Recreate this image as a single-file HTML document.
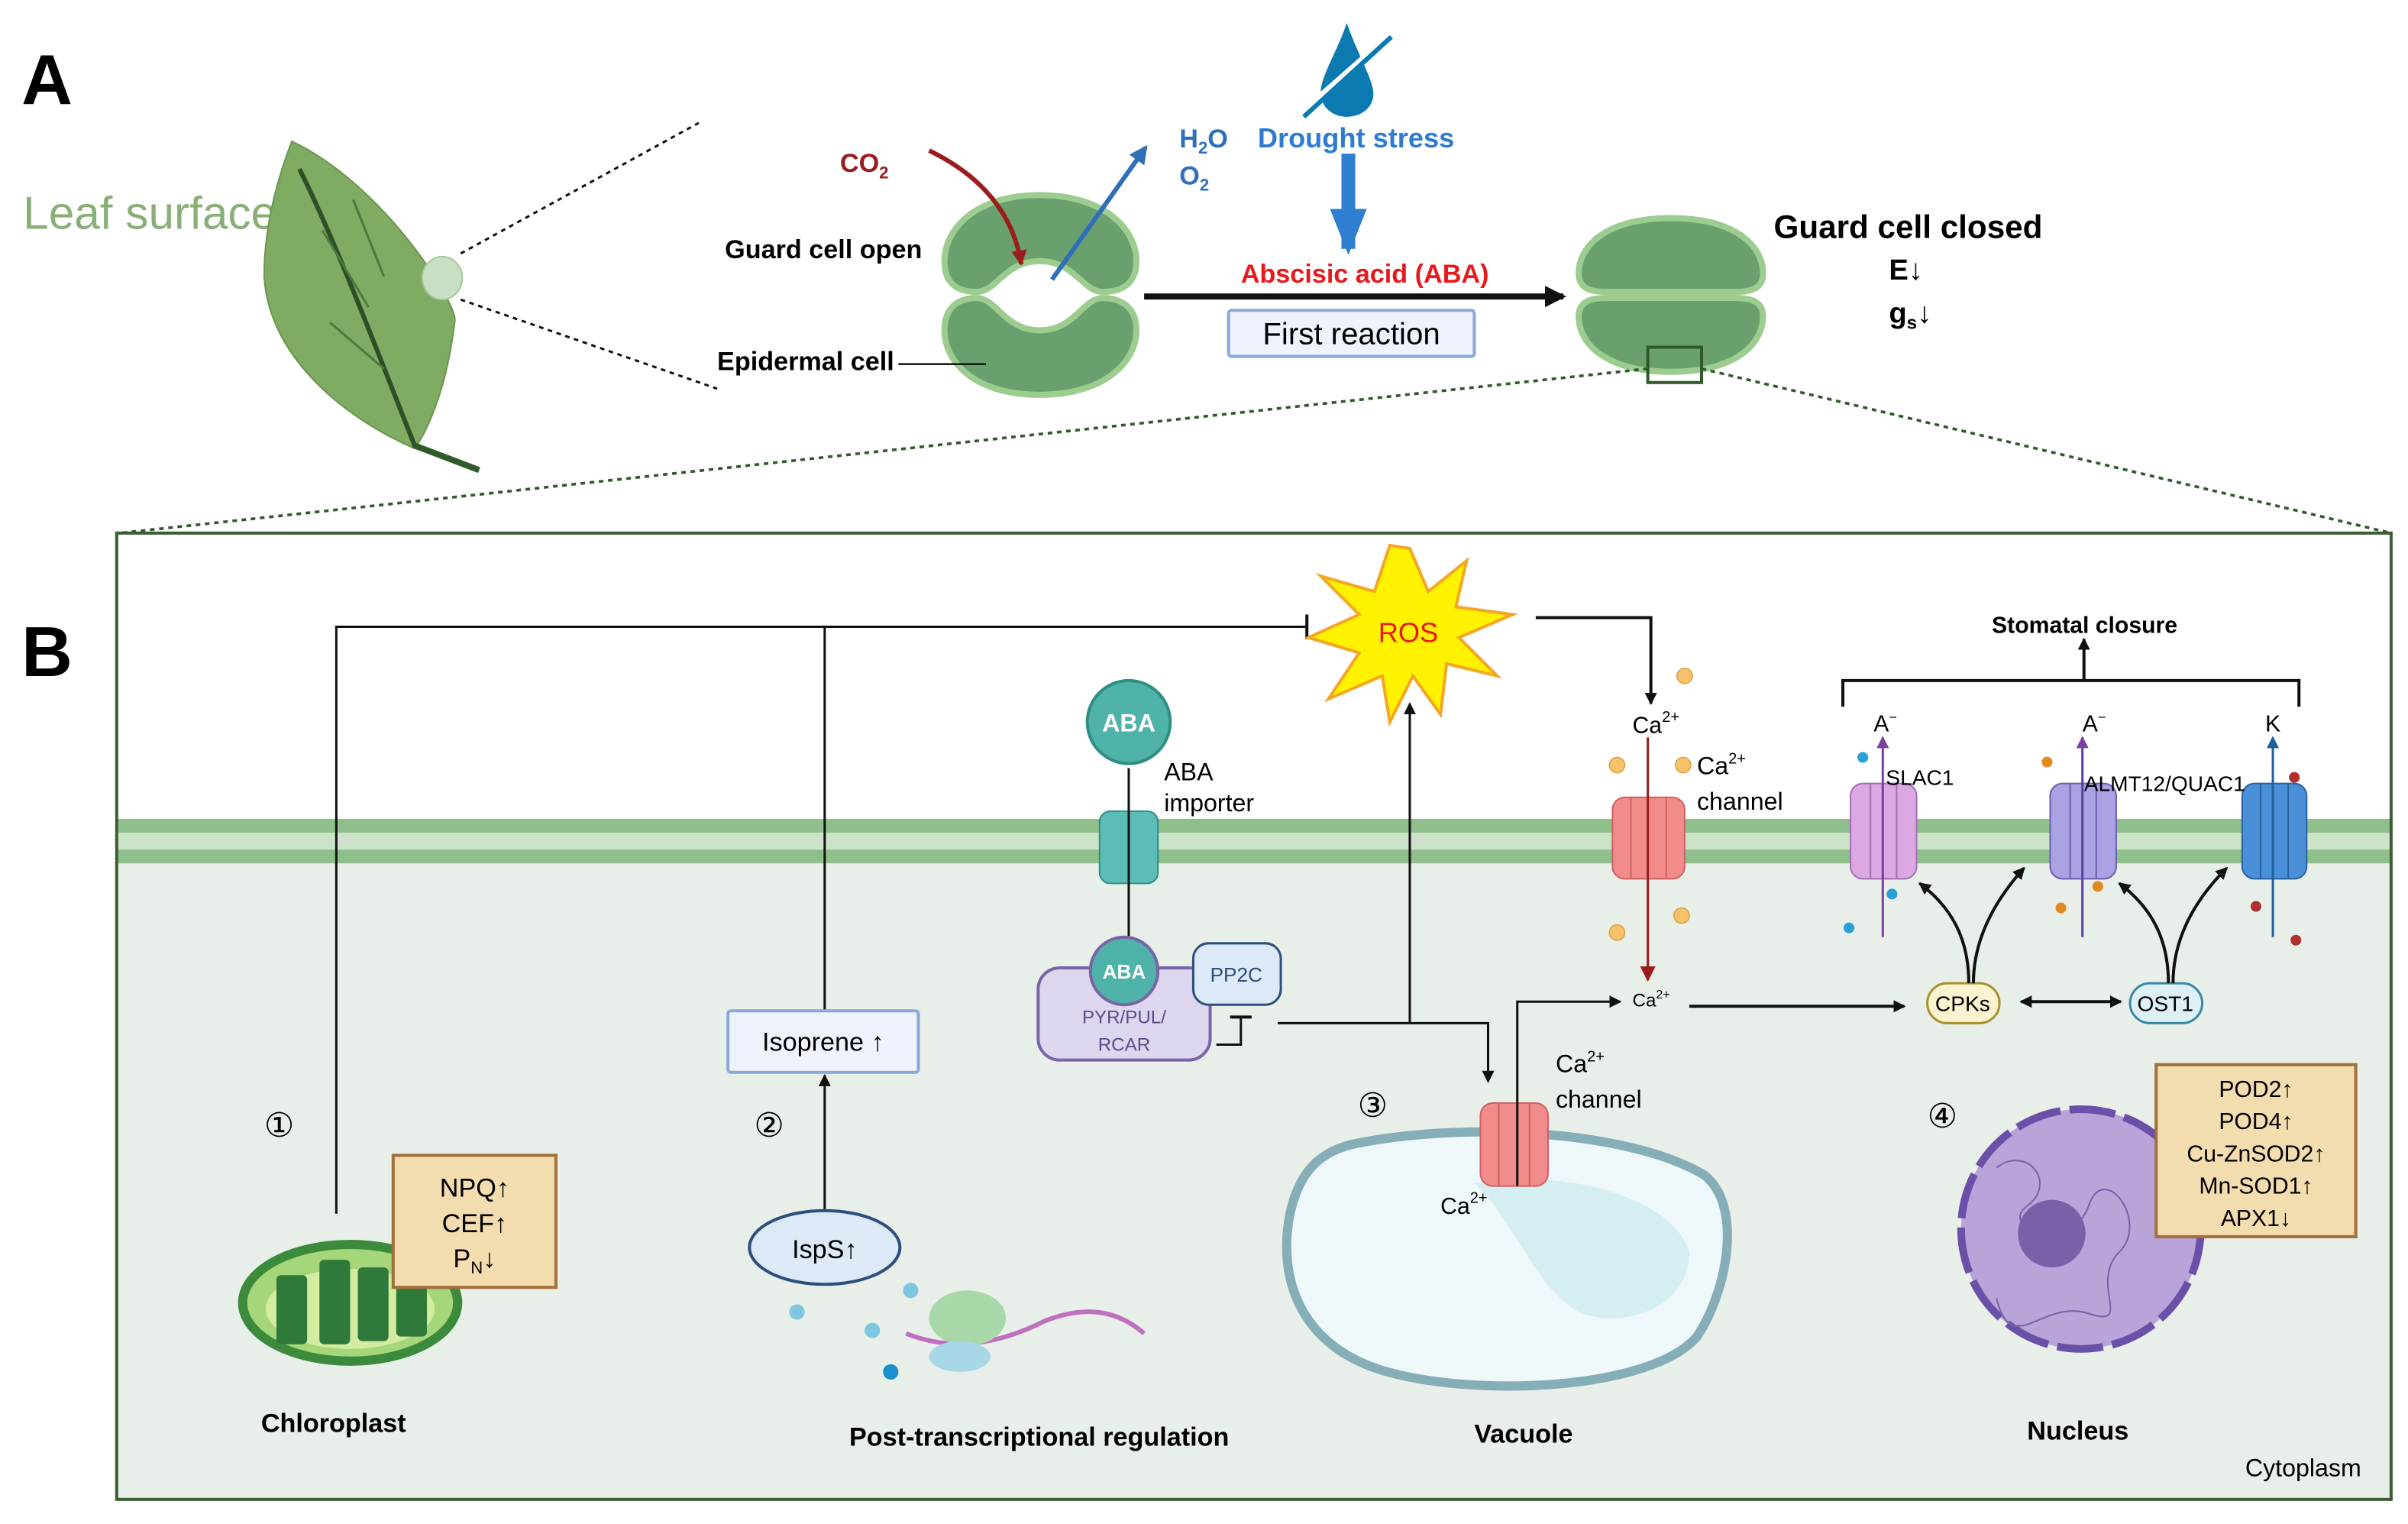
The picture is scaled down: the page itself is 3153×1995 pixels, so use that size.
<!DOCTYPE html>
<html><head><meta charset="utf-8"><style>
html,body{margin:0;padding:0;background:#fff;}
svg{display:block;}
text{font-family:"Liberation Sans",sans-serif;}
.b{font-weight:bold;}
</style></head><body>
<svg width="3153" height="1995" viewBox="0 0 1568 992" preserveAspectRatio="none" xmlns="http://www.w3.org/2000/svg">
<defs>
<marker id="ak" markerWidth="8" markerHeight="8" refX="7" refY="4" orient="auto" markerUnits="userSpaceOnUse"><path d="M0,0 L8,4 L0,8 z" fill="#111"/></marker>
<marker id="akb" markerWidth="14" markerHeight="14" refX="12" refY="7" orient="auto" markerUnits="userSpaceOnUse"><path d="M0,0 L14,7 L0,14 z" fill="#111"/></marker>
<marker id="ar" markerWidth="10" markerHeight="10" refX="9" refY="5" orient="auto" markerUnits="userSpaceOnUse"><path d="M0,0 L10,5 L0,10 z" fill="#9b1c1c"/></marker>
<marker id="abl" markerWidth="12" markerHeight="12" refX="10" refY="6" orient="auto" markerUnits="userSpaceOnUse"><path d="M0,0 L12,6 L0,12 z" fill="#2f6fba"/></marker>
<marker id="abig" markerWidth="30" markerHeight="24" refX="26" refY="12" orient="auto" markerUnits="userSpaceOnUse"><path d="M0,0 L30,12 L0,24 z" fill="#2e7fd0"/></marker>
<marker id="ap" markerWidth="8" markerHeight="8" refX="7" refY="4" orient="auto" markerUnits="userSpaceOnUse"><path d="M0,0 L8,4 L0,8 z" fill="#7a3fa0"/></marker>
<marker id="ab2" markerWidth="8" markerHeight="8" refX="7" refY="4" orient="auto" markerUnits="userSpaceOnUse"><path d="M0,0 L8,4 L0,8 z" fill="#1f5f9a"/></marker>
<marker id="ars" markerWidth="8" markerHeight="8" refX="1" refY="4" orient="auto" markerUnits="userSpaceOnUse"><path d="M8,0 L0,4 L8,8 z" fill="#111"/></marker>
</defs>

<!-- Panel A -->
<text x="14" y="68" font-size="46" class="b">A</text>
<text x="15" y="149" font-size="30" fill="#8aae78">Leaf surface</text>
<path d="M190,92 C250,120 300,200 296,210 C290,260 275,285 270,292 C220,270 175,230 172,180 C172,140 185,105 190,92 z" fill="#7fac62" stroke="#6a9650"/>
<path d="M195,110 C220,160 250,240 270,290 L310,305" stroke="#2f4f2a" stroke-width="3" fill="none"/>
<path d="M270,290 L312,306" stroke="#2f5a2a" stroke-width="4"/>
<path d="M210,150 L240,200 M215,210 L250,240 M230,130 L250,180" stroke="#4d7a3e" stroke-width="1.5" fill="none"/>
<ellipse cx="288" cy="181" rx="13" ry="14" fill="#c7dfc2" stroke="#a8c8a0"/>
<path d="M300,165 L455,80 M300,195 L467,253" stroke="#111" stroke-width="1.5" stroke-dasharray="3,3"/>

<!-- open guard cell -->
<path d="M677,127 C720,127 740,150 740,170 C740,185 730,190 718,190 C705,190 700,170 677,170 C654,170 649,190 636,190 C624,190 615,185 615,170 C615,150 634,127 677,127 z" fill="#6aa06e" stroke="#9ccc8f" stroke-width="4"/>
<path d="M677,257 C720,257 740,235 740,215 C740,200 730,194 718,194 C705,194 700,215 677,215 C654,215 649,194 636,194 C624,194 615,200 615,215 C615,235 634,257 677,257 z" fill="#6aa06e" stroke="#9ccc8f" stroke-width="4"/>
<text x="472" y="168" font-size="17" class="b">Guard cell open</text>
<text x="467" y="241" font-size="17" class="b">Epidermal cell</text>
<line x1="585" y1="237" x2="642" y2="237" stroke="#111" stroke-width="1.2"/>
<text x="547" y="112" font-size="17" class="b" fill="#9b1c1c">CO<tspan font-size="11" dy="4">2</tspan></text>
<path d="M605,98 C640,115 660,140 665,172" stroke="#9b1c1c" stroke-width="3" fill="none" marker-end="url(#ar)"/>
<line x1="685" y1="182" x2="746" y2="96" stroke="#2f6fba" stroke-width="3" marker-end="url(#abl)"/>
<text x="768" y="96" font-size="17" class="b" fill="#2f6fba">H<tspan font-size="11" dy="4">2</tspan><tspan dy="-4">O</tspan></text>
<text x="768" y="120" font-size="17" class="b" fill="#2f6fba">O<tspan font-size="11" dy="4">2</tspan></text>
<text x="819" y="96" font-size="18" class="b" fill="#2e7bd0">Drought stress</text>
<path d="M877,15 C870,35 860,50 860,60 C860,70 868,76 877,76 C888,76 896,68 894,58 C892,48 884,35 877,15 z" fill="#0a7ab0"/>
<line x1="852" y1="70" x2="902" y2="26" stroke="#fff" stroke-width="5"/>
<line x1="849" y1="76" x2="906" y2="24" stroke="#0a7ab0" stroke-width="3"/>
<line x1="878" y1="100" x2="878" y2="162" stroke="#2e7fd0" stroke-width="9" marker-end="url(#abig)"/>
<text x="808" y="184" font-size="17" class="b" fill="#e8191c">Abscisic acid (ABA)</text>
<line x1="745" y1="193" x2="1018" y2="193" stroke="#111" stroke-width="4" marker-end="url(#akb)"/>
<rect x="800" y="202" width="160" height="30" rx="2" fill="#eef3fb" stroke="#8aa8d8" stroke-width="2"/>
<text x="880" y="224" font-size="20" text-anchor="middle">First reaction</text>

<!-- closed guard cell -->
<path d="M1088,142 C1130,142 1148,160 1148,178 C1148,188 1140,190 1130,190 L1046,190 C1036,190 1028,188 1028,178 C1028,160 1046,142 1088,142 z" fill="#6aa06e" stroke="#9ccc8f" stroke-width="4"/>
<path d="M1088,242 C1130,242 1148,224 1148,206 C1148,196 1140,194 1130,194 L1046,194 C1036,194 1028,196 1028,206 C1028,224 1046,242 1088,242 z" fill="#6aa06e" stroke="#9ccc8f" stroke-width="4"/>
<rect x="1073" y="226" width="35" height="23" fill="none" stroke="#2f5a2a" stroke-width="2"/>
<text x="1155" y="155" font-size="21" class="b">Guard cell closed</text>
<text x="1230" y="182" font-size="19" class="b">E↓</text>
<text x="1230" y="210" font-size="19" class="b">g<tspan font-size="12" dy="4">s</tspan><tspan dy="-4">↓</tspan></text>
<path d="M1073,240 L78,347 M1108,240 L1557,347" stroke="#2f5a2a" stroke-width="1.8" stroke-dasharray="3,3"/>

<!-- Panel B -->
<rect x="76" y="347" width="1481" height="629" fill="#fff"/>
<rect x="76" y="562" width="1481" height="414" fill="#e8efe8"/>
<rect x="76" y="533" width="1481" height="9" fill="#8fbf8a"/>
<rect x="76" y="542" width="1481" height="11" fill="#cde3c9"/>
<rect x="76" y="553" width="1481" height="9" fill="#8fbf8a"/>
<rect x="76" y="347" width="1481" height="629" fill="none" stroke="#3b5e32" stroke-width="2"/>
<text x="14" y="440" font-size="46" class="b">B</text>

<path d="M219,790 L219,408 L850,408" stroke="#111" stroke-width="1.5" fill="none"/>
<line x1="851" y1="400" x2="851" y2="416" stroke="#111" stroke-width="2"/>
<line x1="537" y1="658" x2="537" y2="408" stroke="#111" stroke-width="1.5"/>
<line x1="537" y1="790" x2="537" y2="700" stroke="#111" stroke-width="1.5" marker-end="url(#ak)"/>

<polygon points="918,357 930,385 955,365 948,395 985,400 950,415 975,440 942,432 938,465 920,440 905,470 900,440 865,455 885,425 852,415 885,400 860,375 895,385 905,355" fill="#fff200" stroke="#f5a623" stroke-width="2"/>
<text x="917" y="418" font-size="18" fill="#e8191c" text-anchor="middle">ROS</text>
<path d="M1000,402 L1075,402 L1075,458" stroke="#111" stroke-width="2" fill="none" marker-end="url(#ak)"/>
<text x="1063" y="477" font-size="15">Ca<tspan font-size="10" dy="-7">2+</tspan></text>
<g fill="#f5c26b" stroke="#e0a040" stroke-width="0.8">
<circle cx="1097" cy="440" r="5"/><circle cx="1053" cy="498" r="5"/><circle cx="1096" cy="498" r="5"/>
<circle cx="1095" cy="596" r="5"/><circle cx="1053" cy="607" r="5"/>
<circle cx="1023" cy="762" r="5"/><circle cx="1007" cy="789" r="5"/><circle cx="995" cy="800" r="5"/><circle cx="966" cy="790" r="5"/>
</g>
<text x="1105" y="504" font-size="16">Ca<tspan font-size="10" dy="-7">2+</tspan></text>
<text x="1105" y="527" font-size="16">channel</text>
<rect x="1050" y="519" width="47" height="53" rx="8" fill="#f28b8b" stroke="#d06060"/>
<line x1="1062" y1="519" x2="1062" y2="572" stroke="#d06060"/><line x1="1085" y1="519" x2="1085" y2="572" stroke="#d06060"/>
<line x1="1073" y1="480" x2="1073" y2="638" stroke="#9b1c1c" stroke-width="1.5" marker-end="url(#ar)"/>

<circle cx="735" cy="470" r="27" fill="#4fb3a9" stroke="#2f8f85" stroke-width="2"/>
<text x="735" y="476" font-size="16" fill="#fff" text-anchor="middle" class="b">ABA</text>
<text x="758" y="508" font-size="16">ABA</text>
<text x="758" y="528" font-size="16">importer</text>
<rect x="716" y="528" width="38" height="47" rx="7" fill="#5bbcb8" stroke="#2f8f85"/>
<line x1="735" y1="500" x2="735" y2="630" stroke="#111" stroke-width="1.5" marker-end="url(#ak)"/>

<rect x="676" y="630" width="112" height="60" rx="14" fill="#ddd6ee" stroke="#7a64a8" stroke-width="2"/>
<circle cx="732" cy="632" r="22" fill="#4fb3a9" stroke="#7a64a8" stroke-width="2"/>
<text x="732" y="637" font-size="13" fill="#fff" text-anchor="middle" class="b">ABA</text>
<text x="732" y="666" font-size="12" fill="#5a4a88" text-anchor="middle">PYR/PUL/</text>
<text x="732" y="684" font-size="12" fill="#5a4a88" text-anchor="middle">RCAR</text>
<rect x="777" y="614" width="57" height="40" rx="10" fill="#dde9f7" stroke="#2c4f7d" stroke-width="1.5"/>
<text x="805" y="639" font-size="13" fill="#2c4f7d" text-anchor="middle">PP2C</text>
<path d="M792,680 L808,680 L808,662" stroke="#111" stroke-width="1.5" fill="none"/>
<line x1="801" y1="662" x2="815" y2="662" stroke="#111" stroke-width="2"/>
<path d="M832,666 L969,666 L969,704" stroke="#111" stroke-width="1.5" fill="none" marker-end="url(#ak)"/>
<line x1="918" y1="666" x2="918" y2="458" stroke="#111" stroke-width="1.5" marker-end="url(#ak)"/>

<rect x="474" y="658" width="124" height="40" rx="2" fill="#eef3fb" stroke="#8aa8d8" stroke-width="2"/>
<text x="536" y="684" font-size="17" text-anchor="middle">Isoprene ↑</text>
<ellipse cx="537" cy="812" rx="49" ry="24" fill="#dde9f7" stroke="#2c4f7d" stroke-width="2"/>
<text x="537" y="819" font-size="17" text-anchor="middle">IspS↑</text>
<g fill="#7fc7e0"><circle cx="519" cy="854" r="5"/><circle cx="593" cy="840" r="5"/><circle cx="568" cy="866" r="5"/></g>
<circle cx="580" cy="893" r="5" fill="#1a8fd0"/>
<path d="M590,868 C620,880 650,875 680,860 C710,848 730,855 745,868" stroke="#c070c0" stroke-width="3" fill="none"/>
<ellipse cx="630" cy="858" rx="25" ry="18" fill="#a8d8a8"/>
<ellipse cx="625" cy="883" rx="20" ry="10" fill="#a8d8e8"/>

<ellipse cx="228" cy="848" rx="70" ry="38" fill="#a6d67a" stroke="#3c8a3c" stroke-width="6"/>
<ellipse cx="228" cy="852" rx="55" ry="26" fill="#d4eca0"/>
<g fill="#2f7a3a"><rect x="180" y="830" width="20" height="45" rx="3"/><rect x="208" y="820" width="20" height="55" rx="3"/><rect x="233" y="825" width="20" height="48" rx="3"/><rect x="258" y="828" width="20" height="42" rx="3"/></g>
<rect x="256" y="752" width="106" height="86" fill="#f3dcae" stroke="#a2703a" stroke-width="2"/>
<text x="309" y="779" font-size="17" text-anchor="middle">NPQ↑</text>
<text x="309" y="802" font-size="17" text-anchor="middle">CEF↑</text>
<text x="309" y="825" font-size="17" text-anchor="middle">P<tspan font-size="11" dy="4">N</tspan><tspan dy="-4">↓</tspan></text>

<g font-size="22"><text x="172" y="740">①</text><text x="491" y="740">②</text><text x="884" y="727">③</text><text x="1255" y="734">④</text></g>

<!-- Vacuole -->
<path d="M880,745 C950,730 1060,735 1110,765 C1135,785 1125,840 1105,870 C1075,905 960,910 900,892 C845,875 832,830 840,790 C846,762 860,750 880,745 z" fill="#eef8fb" stroke="#86aeb8" stroke-width="6"/>
<path d="M960,770 C1020,760 1090,780 1100,815 C1100,850 1060,865 1030,855 C1000,840 990,800 960,770 z" fill="#d4eef2"/>
<rect x="964" y="718" width="44" height="54" rx="8" fill="#f28b8b" stroke="#d06060"/>
<line x1="976" y1="718" x2="976" y2="772" stroke="#d06060"/><line x1="996" y1="718" x2="996" y2="772" stroke="#d06060"/>
<text x="1013" y="698" font-size="16">Ca<tspan font-size="10" dy="-7">2+</tspan></text>
<text x="1013" y="721" font-size="16">channel</text>
<text x="938" y="790" font-size="15">Ca<tspan font-size="10" dy="-7">2+</tspan></text>
<path d="M988,772 L988,652 L1055,652" stroke="#111" stroke-width="1.5" fill="none" marker-end="url(#ak)"/>
<text x="1063" y="655" font-size="12">Ca<tspan font-size="8" dy="-5">2+</tspan></text>
<line x1="1100" y1="655" x2="1240" y2="655" stroke="#111" stroke-width="2" marker-end="url(#ak)"/>
<rect x="1255" y="640" width="47" height="26" rx="13" fill="#fbf3d0" stroke="#a89030" stroke-width="1.5"/>
<text x="1278" y="658" font-size="14" text-anchor="middle">CPKs</text>
<line x1="1316" y1="652" x2="1381" y2="652" stroke="#111" stroke-width="2" marker-start="url(#ars)" marker-end="url(#ak)"/>
<rect x="1387" y="640" width="47" height="26" rx="13" fill="#dcf0f6" stroke="#3a88a8" stroke-width="1.5"/>
<text x="1410" y="658" font-size="14" text-anchor="middle">OST1</text>
<g stroke="#111" stroke-width="2" fill="none">
<path d="M1282,640 C1282,610 1270,590 1250,575" marker-end="url(#ak)"/>
<path d="M1285,640 C1285,610 1300,585 1318,565" marker-end="url(#ak)"/>
<path d="M1412,640 C1412,610 1400,590 1380,575" marker-end="url(#ak)"/>
<path d="M1415,640 C1415,610 1430,585 1450,565" marker-end="url(#ak)"/>
</g>

<rect x="1205" y="510" width="43" height="62" rx="8" fill="#dca8e4" stroke="#a070b0"/>
<line x1="1218" y1="510" x2="1218" y2="572" stroke="#a070b0"/><line x1="1235" y1="510" x2="1235" y2="572" stroke="#a070b0"/>
<rect x="1335" y="510" width="43" height="62" rx="8" fill="#aaa2e2" stroke="#6a60b0"/>
<line x1="1348" y1="510" x2="1348" y2="572" stroke="#6a60b0"/><line x1="1365" y1="510" x2="1365" y2="572" stroke="#6a60b0"/>
<rect x="1460" y="510" width="42" height="62" rx="8" fill="#4a90d8" stroke="#2a60a0"/>
<line x1="1472" y1="510" x2="1472" y2="572" stroke="#2a60a0"/><line x1="1490" y1="510" x2="1490" y2="572" stroke="#2a60a0"/>
<line x1="1226" y1="610" x2="1226" y2="480" stroke="#7a3fa0" stroke-width="1.5" marker-end="url(#ap)"/>
<line x1="1356" y1="610" x2="1356" y2="480" stroke="#5a3fa0" stroke-width="1.5" marker-end="url(#ap)"/>
<line x1="1480" y1="610" x2="1480" y2="480" stroke="#1f5f9a" stroke-width="1.5" marker-end="url(#ab2)"/>
<text x="1220" y="476" font-size="15">A<tspan font-size="9" dy="-6">−</tspan></text>
<text x="1356" y="476" font-size="15">A<tspan font-size="9" dy="-6">−</tspan></text>
<text x="1475" y="476" font-size="15">K</text>
<text x="1228" y="511" font-size="14">SLAC1</text>
<text x="1357" y="515" font-size="14">ALMT12/QUAC1</text>
<g><circle cx="1213" cy="493" r="3.5" fill="#2aa0d8"/><circle cx="1232" cy="582" r="3.5" fill="#2aa0d8"/><circle cx="1204" cy="604" r="3.5" fill="#2aa0d8"/>
<circle cx="1333" cy="496" r="3.5" fill="#e08a20"/><circle cx="1366" cy="577" r="3.5" fill="#e08a20"/><circle cx="1342" cy="591" r="3.5" fill="#e08a20"/>
<circle cx="1494" cy="506" r="3.5" fill="#b03030"/><circle cx="1469" cy="590" r="3.5" fill="#b03030"/><circle cx="1495" cy="612" r="3.5" fill="#b03030"/></g>
<path d="M1200,460 L1200,443 L1497,443 L1497,460" stroke="#111" stroke-width="2" fill="none"/>
<line x1="1357" y1="443" x2="1357" y2="416" stroke="#111" stroke-width="2" marker-end="url(#ak)"/>
<text x="1297" y="412" font-size="15" class="b">Stomatal closure</text>

<circle cx="1355" cy="800" r="78" fill="#b8a4d8" stroke="#6a50a8" stroke-width="5" stroke-dasharray="30,6"/>
<circle cx="1336" cy="803" r="22" fill="#7a60a8"/>
<path d="M1300,760 c20,-15 40,10 20,25 c-20,15 30,30 40,0 c10,-30 40,10 20,30 c-20,20 10,50 -20,40 c-30,-10 -50,30 -60,-10" stroke="#7a60a8" fill="none"/>
<rect x="1404" y="693" width="130" height="112" fill="#f3dcae" stroke="#a2703a" stroke-width="2"/>
<g font-size="15" text-anchor="middle"><text x="1469" y="714">POD2↑</text><text x="1469" y="735">POD4↑</text><text x="1469" y="756">Cu-ZnSOD2↑</text><text x="1469" y="777">Mn-SOD1↑</text><text x="1469" y="798">APX1↓</text></g>

<g font-size="17" class="b"><text x="170" y="932">Chloroplast</text><text x="553" y="941">Post-transcriptional regulation</text><text x="960" y="939">Vacuole</text><text x="1320" y="937">Nucleus</text></g>
<text x="1462" y="961" font-size="16">Cytoplasm</text>
</svg>
</body></html>
